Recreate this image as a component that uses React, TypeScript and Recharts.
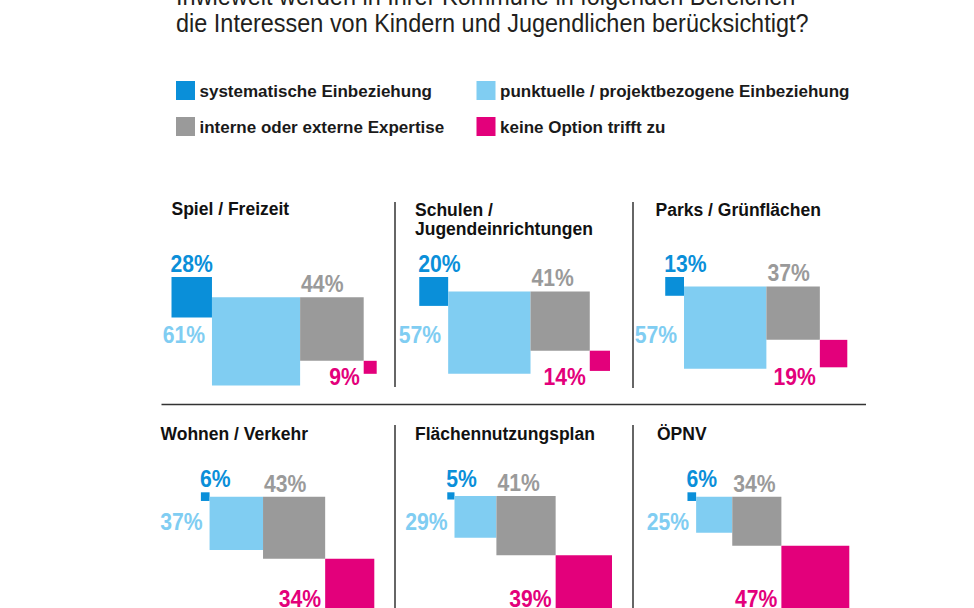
import React from 'react';
import { ScatterChart, XAxis, YAxis, ReferenceArea, Scatter } from 'recharts';

// ---------- data ----------
const categories = [
  'Spiel / Freizeit',
  'Schulen /|Jugendeinrichtungen',
  'Parks / Grünflächen',
  'Wohnen / Verkehr',
  'Flächennutzungsplan',
  'ÖPNV',
];
const systematisch = [28, 20, 13, 6, 5, 6];
const punktuell = [61, 57, 57, 37, 29, 25];
const expertise = [44, 41, 37, 43, 41, 34];
const keineOption = [9, 14, 19, 34, 39, 47];
const seriesNames = [
  'systematische Einbeziehung',
  'punktuelle / projektbezogene Einbeziehung',
  'interne oder externe Expertise',
  'keine Option trifft zu',
];
const titleLines = [
  'Inwieweit werden in Ihrer Kommune in folgenden Bereichen',
  'die Interessen von Kindern und Jugendlichen berücksichtigt?',
];

// ---------- styles / layout ----------
const COLORS = ['#0A8FD9', '#80CDF2', '#9A9A9A', '#E3007B'];
const FONT = "'Liberation Sans', Arial, 'DejaVu Sans', sans-serif";
const S = 1.445; // px per percentage point (square side)

const ROWS = [
  { top: 245, h: 150, anchorTop: 277, lightBase: 343, pinkBase: 385 },
  { top: 455, h: 153, anchorTop: 492.3, lightBase: 530, pinkBase: 606.5 },
];
const PANELS = [
  { row: 0, left: 140, right: 376.7, titleX: 171.5, titleY: 215 },
  { row: 0, left: 380, right: 610, titleX: 415, titleY: 216 },
  { row: 0, left: 620, right: 847.3, titleX: 655.5, titleY: 216 },
  { row: 1, left: 140, right: 374.3, titleX: 160.5, titleY: 440 },
  { row: 1, left: 380, right: 612, titleX: 415, titleY: 440 },
  { row: 1, left: 620, right: 849.3, titleX: 657, titleY: 440 },
];
const CHART_W = 240;
const LINE = '#333333';

const LabelShape = (props: any) => {
  const { cx, cy, payload } = props;
  if (cx == null || cy == null) return null;
  return (
    <text
      transform={`translate(${cx}, ${cy}) scale(0.9, 1)`}
      textAnchor={payload.anchor}
      fill={payload.color}
      fontFamily={FONT}
      fontWeight={700}
      fontSize={23.5}
    >
      {payload.text}
    </text>
  );
};

function Panel({ i }: { i: number }) {
  const P = PANELS[i];
  const Rw = ROWS[P.row];
  const b = systematisch[i];
  const l = punktuell[i];
  const g = expertise[i];
  const p = keineOption[i];
  const R = (P.right - P.left) / S;
  const T = (Rw.anchorTop - Rw.top) / S;
  const xP0 = R - p;
  const xG0 = xP0 - g;
  const xL0 = xG0 - l;
  const xB0 = xL0 - b;
  const yTop = T + b / 2;
  const squares = [
    { x1: xB0, x2: xL0, y1: T, y2: T + b, color: COLORS[0] },
    { x1: xL0, x2: xG0, y1: yTop, y2: yTop + l, color: COLORS[1] },
    { x1: xG0, x2: xP0, y1: yTop, y2: yTop + g, color: COLORS[2] },
    { x1: xP0, x2: R, y1: yTop + g, y2: yTop + g + p, color: COLORS[3] },
  ];
  const labels = [
    { x: xB0 - 1 / S, y: T - 5.5 / S, text: `${b}%`, color: COLORS[0], anchor: 'start' },
    { x: xL0 - 7 / S, y: (Rw.lightBase - Rw.top) / S, text: `${l}%`, color: COLORS[1], anchor: 'end' },
    { x: xG0 + 1 / S, y: yTop - 5 / S, text: `${g}%`, color: COLORS[2], anchor: 'start' },
    { x: xP0 - 4 / S, y: (Rw.pinkBase - Rw.top) / S, text: `${p}%`, color: COLORS[3], anchor: 'end' },
  ];
  return (
    <div style={{ position: 'absolute', left: P.left, top: Rw.top }}>
      <ScatterChart width={CHART_W} height={Rw.h} margin={{ top: 0, right: 0, bottom: 0, left: 0 }}>
        <XAxis type="number" dataKey="x" domain={[0, CHART_W / S]} hide allowDataOverflow />
        <YAxis type="number" dataKey="y" domain={[0, Rw.h / S]} reversed hide allowDataOverflow />
        {squares.map((q, k) => (
          <ReferenceArea
            key={k}
            x1={q.x1}
            x2={q.x2}
            y1={q.y1}
            y2={q.y2}
            fill={q.color}
            fillOpacity={1}
            stroke="none"
            ifOverflow="visible"
          />
        ))}
        <Scatter data={labels} isAnimationActive={false} shape={LabelShape} />
      </ScatterChart>
    </div>
  );
}

export default function App() {
  return (
    <div
      style={{
        position: 'absolute',
        left: 0,
        top: 0,
        width: 974,
        height: 608,
        overflow: 'hidden',
        background: '#ffffff',
      }}
    >
      <svg width={974} height={608} style={{ position: 'absolute', left: 0, top: 0 }}>
        {titleLines.map((t, k) => (
          <text
            key={k}
            transform={`translate(176, ${5 + k * 26.7}) scale(0.92, 1)`}
            fontFamily={FONT}
            fontSize={25.5}
            fill="#231F20"
          >
            {t}
          </text>
        ))}
        {seriesNames.map((n, k) => {
          const x = k % 2 === 0 ? 176 : 476.5;
          const y = k < 2 ? 81 : 117;
          return (
            <g key={k}>
              <rect x={x} y={y} width={19} height={19} fill={COLORS[k]} />
              <text x={x + 23.5} y={y + 15.5} fontFamily={FONT} fontWeight={700} fontSize={17} fill="#1a1a1a">
                {n}
              </text>
            </g>
          );
        })}
        {PANELS.map((P, k) =>
          categories[k].split('|').map((ln, j) => (
            <text
              key={`${k}-${j}`}
              x={P.titleX}
              y={P.titleY + j * 18.5}
              fontFamily={FONT}
              fontWeight={700}
              fontSize={17.5}
              fill="#111111"
            >
              {ln}
            </text>
          ))
        )}
        <line x1={395} y1={202} x2={395} y2={387} stroke={LINE} strokeWidth={1.5} />
        <line x1={633} y1={202} x2={633} y2={388} stroke={LINE} strokeWidth={1.5} />
        <line x1={161.5} y1={404.5} x2={866} y2={404.5} stroke={LINE} strokeWidth={1.5} />
        <line x1={395} y1={425} x2={395} y2={608} stroke={LINE} strokeWidth={1.5} />
        <line x1={633} y1={425} x2={633} y2={608} stroke={LINE} strokeWidth={1.5} />
      </svg>
      {PANELS.map((_, i) => (
        <Panel key={i} i={i} />
      ))}
    </div>
  );
}
